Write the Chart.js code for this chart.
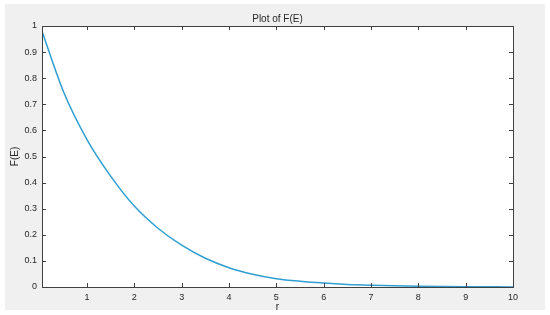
<!DOCTYPE html>
<html>
<head>
<meta charset="utf-8">
<script src="https://cdn.jsdelivr.net/npm/chart.js@4.4.0/dist/chart.umd.min.js"></script>
<style>
  html, body { margin: 0; padding: 0; background: #ffffff; }
  #wrap { width: 550px; height: 315px; }
</style>
</head>
<body>
<div id="wrap"><canvas id="myChart" width="550" height="315"></canvas></div>
<script>
// data
let rValues = [0.05, 0.5, 1, 1.5, 2, 2.5, 3, 3.5, 4, 4.5, 5, 5.5, 6, 6.5, 7, 8, 9, 10];
let feValues = [0.98, 0.75, 0.565, 0.425, 0.31, 0.225, 0.16, 0.11, 0.074, 0.049, 0.032, 0.022, 0.015, 0.01, 0.007, 0.003, 0.001, 0.0004];
let xTicks = [1, 2, 3, 4, 5, 6, 7, 8, 9, 10];
let yTicks = [0, 0.1, 0.2, 0.3, 0.4, 0.5, 0.6, 0.7, 0.8, 0.9, 1];

let points = rValues.map((r, i) => ({ x: r, y: feValues[i] }));

const axisColor = '#404040';
const textColor = '#262626';
const fontFam = '"Liberation Sans", Arial, Helvetica, sans-serif';

// gray figure background + white axes box, matlab style inward ticks
const matlabFrame = {
  id: 'matlabFrame',
  beforeDraw(chart) {
    const ctx = chart.ctx;
    const a = chart.chartArea;
    ctx.save();
    ctx.fillStyle = '#f0f0f0';
    ctx.fillRect(5, 4, 540, 306);
    ctx.fillStyle = '#ffffff';
    ctx.fillRect(a.left, a.top, a.right - a.left, a.bottom - a.top);
    ctx.restore();
  },
  afterDraw(chart) {
    const ctx = chart.ctx;
    const a = chart.chartArea;
    const xs = chart.scales.x, ys = chart.scales.y;
    const tl = 4;
    ctx.save();
    ctx.strokeStyle = axisColor;
    ctx.lineWidth = 1;
    ctx.beginPath();
    xTicks.forEach((v) => {
      let px = Math.round(xs.getPixelForValue(v)) + 0.5;
      ctx.moveTo(px, a.bottom); ctx.lineTo(px, a.bottom - tl);
      ctx.moveTo(px, a.top); ctx.lineTo(px, a.top + tl);
    });
    yTicks.forEach((v) => {
      let py = Math.round(ys.getPixelForValue(v)) + 0.5;
      ctx.moveTo(a.left, py); ctx.lineTo(a.left + tl, py);
      ctx.moveTo(a.right, py); ctx.lineTo(a.right - tl, py);
    });
    ctx.stroke();
    ctx.strokeRect(Math.round(a.left) + 0.5, Math.round(a.top) + 0.5,
      Math.round(a.right - a.left), Math.round(a.bottom - a.top));
    ctx.restore();
  }
};

const config = {
  type: 'scatter',
  data: {
    datasets: [{
      label: 'F(E)',
      data: points,
      showLine: true,
      borderColor: '#2f9fd2',
      borderWidth: 1.5,
      pointRadius: 0,
      cubicInterpolationMode: 'monotone',
      fill: false
    }]
  },
  options: {
    responsive: false,
    animation: false,
    layout: { padding: { top: 5, left: 5, right: 37, bottom: 2 } },
    plugins: {
      legend: { display: false },
      tooltip: { enabled: false },
      title: {
        display: true,
        text: 'Plot of F(E)',
        fullSize: false,
        color: textColor,
        font: { family: fontFam, size: 10, weight: 'normal' },
        padding: { top: 8, bottom: 1 }
      }
    },
    scales: {
      x: {
        type: 'linear',
        min: 0.05,
        max: 10,
        afterBuildTicks: (scale) => { scale.ticks = xTicks.map(v => ({ value: v })); },
        afterFit: (scale) => { scale.height = 26; },
        grid: { display: false, drawTicks: false },
        border: { display: false },
        ticks: {
          color: textColor,
          padding: 5,
          maxRotation: 0,
          autoSkip: false,
          font: { family: fontFam, size: 9 }
        },
        title: {
          display: true,
          text: 'r',
          color: textColor,
          font: { family: fontFam, size: 10 },
          padding: { top: 0, bottom: 0 }
        }
      },
      y: {
        type: 'linear',
        min: 0,
        max: 1,
        afterBuildTicks: (scale) => { scale.ticks = yTicks.map(v => ({ value: v })); },
        afterFit: (scale) => { scale.width = 37; },
        grid: { display: false, drawTicks: false },
        border: { display: false },
        ticks: {
          color: textColor,
          padding: 5,
          autoSkip: false,
          font: { family: fontFam, size: 9 },
          callback: (v) => String(v)
        },
        title: {
          display: true,
          text: 'F(E)',
          color: textColor,
          font: { family: fontFam, size: 10 },
          padding: { top: 4, bottom: 0 }
        }
      }
    }
  },
  plugins: [matlabFrame]
};

const ctx = document.getElementById('myChart').getContext('2d');
const myChart = new Chart(ctx, config);
</script>
</body>
</html>
